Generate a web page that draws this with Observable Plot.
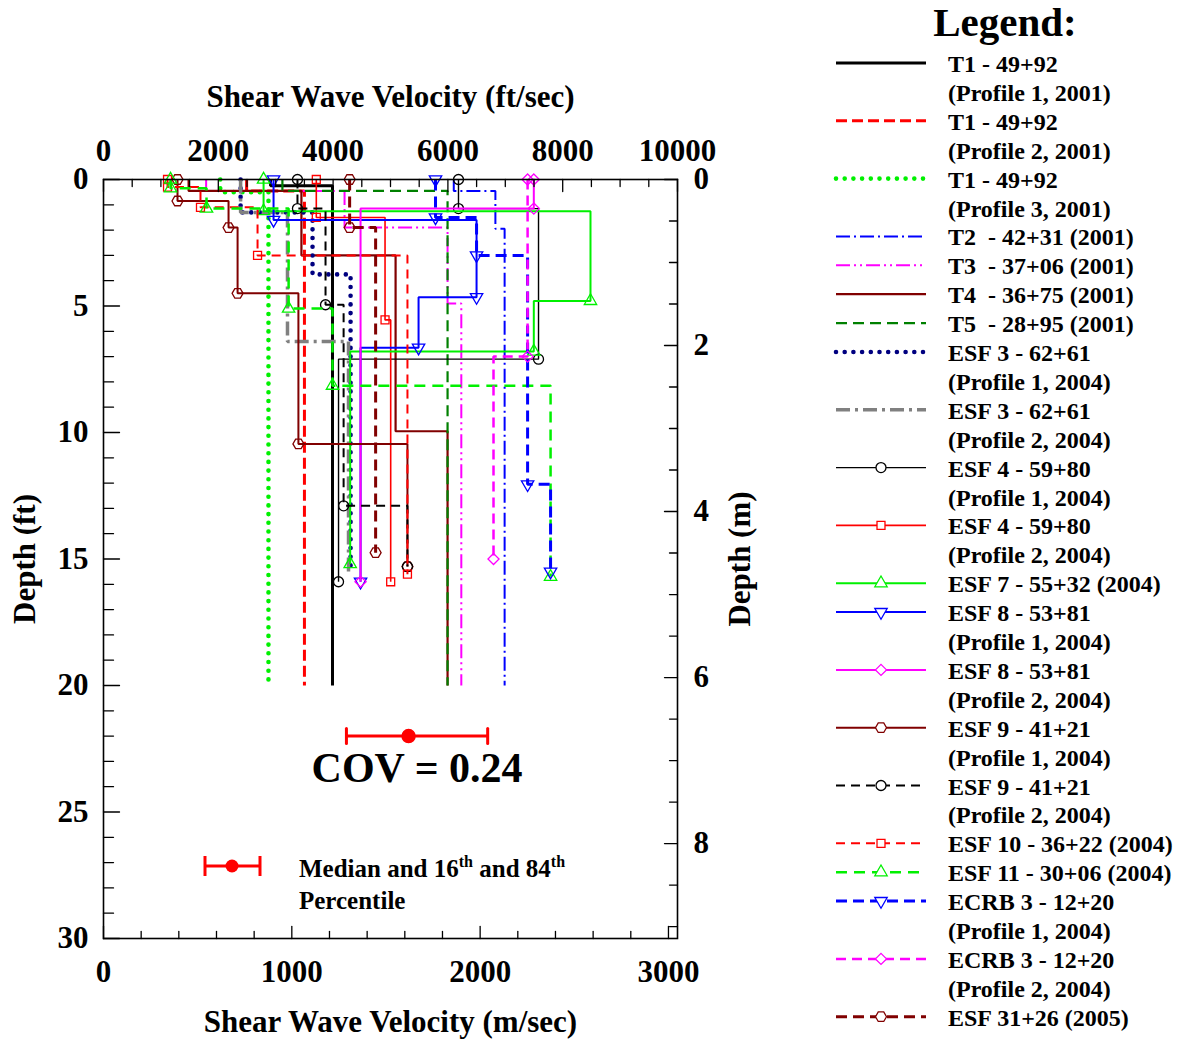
<!DOCTYPE html>
<html><head><meta charset="utf-8">
<script src="https://cdn.jsdelivr.net/npm/d3@7"></script>
<script src="https://cdn.jsdelivr.net/npm/@observablehq/plot@0.6"></script>
<style>
body{margin:0;background:#fff;}
#chart{width:1182px;height:1040px;}
text{font-family:"Liberation Serif","Times New Roman",serif;font-weight:bold;}
</style>
</head><body><div id="chart"></div>
<script>
// ---------- data (depth boundaries in ft, layer velocities in m/s) ----------
const t1p1Depth = [0, 0.25, 20],                 t1p1Vs = [887, 1216];
const t1p2Depth = [0, 0.45, 20],                 t1p2Vs = [760, 1067];
const t1p3Depth = [0, 0.5, 20],                  t1p3Vs = [620, 876];
const t2Depth   = [0, 0.45, 1.95, 20],           t2Vs   = [1860, 2081, 2130];
const t3Depth   = [0, 0.45, 1.9, 4.9, 20],       t3Vs   = [545, 1280, 1827, 1900];
const t4Depth   = [0, 0.45, 3.0, 9.95, 20],      t4Vs   = [452, 1051, 1551, 1827];
const t5Depth   = [0, 0.45, 20],                 t5Vs   = [950, 1827];
const esf3p1Depth = [0, 1.3, 3.75, 15.5],        esf3p1Vs = [728, 1110, 1312];
const esf3p2Depth = [0, 1.3, 6.4, 15.5],         esf3p2Vs = [728, 977, 1301];
const esf4p1Depth = [0, 1.15, 7.1, 15.9],        esf4p1Vs = [1885, 2310, 1248];
const esf4p2Depth = [0, 1.5, 5.55, 15.9],        esf4p2Vs = [1130, 1495, 1525];
const esf7Depth   = [0, 1.25, 4.8, 6.8, 15.2],   esf7Vs   = [850, 2586, 2285, 1310];
const esf8p1Depth = [0, 1.6, 4.65, 6.65, 15.9],  esf8p1Vs = [903, 1981, 1673, 1365];
const esf8p2Depth = [0, 1.15, 15.9],             esf8p2Vs = [2285, 1365];
const esf9p1Depth = [0, 0.85, 1.9, 4.5, 10.45, 15.3], esf9p1Vs = [393, 664, 712, 1035, 1614];
const esf9p2Depth = [0, 1.15, 4.95, 12.9, 15.3], esf9p2Vs = [1030, 1179, 1275, 1614];
const esf10Depth  = [0, 0.3, 1.1, 3.0, 15.6],    esf10Vs  = [340, 515, 818, 1614];
const esf11Depth  = [0, 0.35, 1.15, 5.1, 8.15, 15.7], esf11Vs = [356, 547, 983, 1216, 2374];
const ecrb3p1Depth = [0, 1.5, 3.0, 12.05, 15.5], ecrb3p1Vs = [1763, 1981, 2252, 2374];
const ecrb3p2Depth = [0, 7.0, 15.0],             ecrb3p2Vs = [2252, 2071];
const esf31Depth  = [0, 1.9, 14.75],             esf31Vs  = [1307, 1445];

const seriesNames = [
  ["T1 - 49+92", "(Profile 1, 2001)"],
  ["T1 - 49+92", "(Profile 2, 2001)"],
  ["T1 - 49+92", "(Profile 3, 2001)"],
  ["T2  - 42+31 (2001)"],
  ["T3  - 37+06 (2001)"],
  ["T4  - 36+75 (2001)"],
  ["T5  - 28+95 (2001)"],
  ["ESF 3 - 62+61", "(Profile 1, 2004)"],
  ["ESF 3 - 62+61", "(Profile 2, 2004)"],
  ["ESF 4 - 59+80", "(Profile 1, 2004)"],
  ["ESF 4 - 59+80", "(Profile 2, 2004)"],
  ["ESF 7 - 55+32 (2004)"],
  ["ESF 8 - 53+81", "(Profile 1, 2004)"],
  ["ESF 8 - 53+81", "(Profile 2, 2004)"],
  ["ESF 9 - 41+21", "(Profile 1, 2004)"],
  ["ESF 9 - 41+21", "(Profile 2, 2004)"],
  ["ESF 10 - 36+22 (2004)"],
  ["ESF 11 - 30+06 (2004)"],
  ["ECRB 3 - 12+20", "(Profile 1, 2004)"],
  ["ECRB 3 - 12+20", "(Profile 2, 2004)"],
  ["ESF 31+26 (2005)"]
];

// median, 16th and 84th percentile (m/s) at the plotted depth (ft)
const statValues = [1290, 1620, 2040];
const statDepth = 22;
const covLabel = "COV = 0.24";

// axis ticks
const ftSecLabels = [0, 2000, 4000, 6000, 8000, 10000];
const mSecLabels = [0, 1000, 2000, 3000];
const depthFtLabels = [0, 5, 10, 15, 20, 25, 30];
const depthMLabels = [0, 2, 4, 6, 8];

// ---------- build ----------
const FT = 0.3048;
const profiles = [
  [t1p1Depth, t1p1Vs], [t1p2Depth, t1p2Vs], [t1p3Depth, t1p3Vs], [t2Depth, t2Vs], [t3Depth, t3Vs],
  [t4Depth, t4Vs], [t5Depth, t5Vs], [esf3p1Depth, esf3p1Vs], [esf3p2Depth, esf3p2Vs],
  [esf4p1Depth, esf4p1Vs], [esf4p2Depth, esf4p2Vs], [esf7Depth, esf7Vs], [esf8p1Depth, esf8p1Vs],
  [esf8p2Depth, esf8p2Vs], [esf9p1Depth, esf9p1Vs], [esf9p2Depth, esf9p2Vs], [esf10Depth, esf10Vs],
  [esf11Depth, esf11Vs], [ecrb3p1Depth, ecrb3p1Vs], [ecrb3p2Depth, ecrb3p2Vs], [esf31Depth, esf31Vs]
];

const hexagon = {draw(ctx, size) {
  const r = Math.sqrt(size / 2.598);
  for (let i = 0; i < 6; i++) {
    const a = Math.PI / 3 * i;
    const px = r * Math.cos(a), py = r * Math.sin(a);
    if (i) ctx.lineTo(px, py); else ctx.moveTo(px, py);
  }
  ctx.closePath();
}};

const G = "#00f000";
const styles = [
  {stroke: "#000", w: 3},
  {stroke: "#f00", w: 3, dash: "11 5"},
  {stroke: G, w: 4.6, dash: "0 8.7", cap: "round"},
  {stroke: "#00f", w: 2, dash: "14 4 2 4"},
  {stroke: "#f0f", w: 2, dash: "14 4 2 4 2 4"},
  {stroke: "#800000", w: 2.2},
  {stroke: "#008000", w: 2.2, dash: "11 6"},
  {stroke: "#000080", w: 4.6, dash: "0 8.7", cap: "round"},
  {stroke: "#808080", w: 3.5, dash: "14 5 3 5"},
  {stroke: "#000", w: 1.4, sym: "circle", r: 5},
  {stroke: "#f00", w: 1.6, sym: "square", r: 4.5},
  {stroke: G, w: 2, sym: "triangle", r: 4.6},
  {stroke: "#00f", w: 2, sym: "triangle", r: 4.6, rot: 180},
  {stroke: "#f0f", w: 2, sym: "diamond2", r: 5},
  {stroke: "#800000", w: 2, sym: hexagon, r: 5},
  {stroke: "#000", w: 2, dash: "9 6", sym: "circle", r: 5},
  {stroke: "#f00", w: 2, dash: "9 6", sym: "square", r: 4.5},
  {stroke: G, w: 2.5, dash: "11 7", sym: "triangle", r: 4.6},
  {stroke: "#00f", w: 3, dash: "11 6", sym: "triangle", r: 4.6, rot: 180},
  {stroke: "#f0f", w: 2.5, dash: "10 6", sym: "diamond2", r: 5},
  {stroke: "#800000", w: 3, dash: "11 6", sym: hexagon, r: 5}
];

function stepPoints(depth, vs) {
  const pts = [];
  vs.forEach((v, i) => { pts.push({v, d: depth[i]}); pts.push({v, d: depth[i + 1]}); });
  return pts;
}
function markerPoints(depth, vs) {
  return [{v: vs[0], d: depth[0]}, ...vs.map((v, i) => ({v, d: depth[i + 1]}))];
}

const tickShape = {draw(ctx, l) { ctx.moveTo(0, 0); ctx.lineTo(0, -l); }};
function ticks(values, isMajor, chan, fn, frameAnchor, rotate, longLen, shortLen) {
  const mk = (vals, len) => Plot.vector(vals, {[chan]: fn, frameAnchor, rotate, length: len, anchor: "start",
    shape: tickShape, stroke: "#000", strokeWidth: 1.3});
  return [mk(values.filter(isMajor), longLen), mk(values.filter(v => !isMajor(v)), shortLen)];
}
const near = (a, b) => Math.abs(a - b) < 1e-6;

const marks = [];
profiles.forEach(([depth, vs], i) => {
  const s = styles[i];
  marks.push(Plot.line(stepPoints(depth, vs), {x: "v", y: "d", stroke: s.stroke, strokeWidth: s.w,
    strokeDasharray: s.dash, strokeLinecap: s.cap || "butt", strokeLinejoin: "miter"}));
  if (s.sym) marks.push(Plot.dot(markerPoints(depth, vs), {x: "v", y: "d", symbol: s.sym, r: s.r,
    stroke: s.stroke, fill: "none", strokeWidth: 1.3, rotate: s.rot || 0}));
});

// median bar
const [p16, med, p84] = statValues;
marks.push(Plot.ruleY([statDepth], {y: d => d, x1: p16, x2: p84, stroke: "#f00", strokeWidth: 3}));
marks.push(Plot.vector([p16, p84], {x: d => d, y: () => statDepth, length: 15, anchor: "middle", rotate: 0,
  shape: tickShape, stroke: "#f00", strokeWidth: 3}));
marks.push(Plot.dot([med], {x: d => d, y: () => statDepth, r: 6.5, fill: "#f00", stroke: "#f00"}));
marks.push(Plot.text([covLabel], {x: () => (p16 + p84) / 2, y: () => statDepth + 1.3, fontSize: 42,
  fontWeight: "bold", lineAnchor: "middle"}));

// frame, ticks, labels
marks.push(Plot.frame({stroke: "#000", strokeWidth: 1.6}));
const ftTickVals = d3.range(0, 10001, 500);
const msTickVals = d3.range(0, 3001, 200);
const dFtTickVals = d3.range(0, 31, 1);
const dMTickVals = d3.range(0, 9.01, 0.5);
marks.push(...ticks(ftTickVals, v => v % 2000 === 0, "x", d => d * FT, "top", 180, 12, 7));
marks.push(...ticks(msTickVals, v => v % 1000 === 0, "x", d => d, "bottom", 0, 12, 7));
marks.push(...ticks(dFtTickVals, v => v % 5 === 0, "y", d => d, "left", 90, 16, 10));
marks.push(...ticks(dMTickVals, v => near(v % 2, 0), "y", d => d / FT, "right", -90, 13, 8));

const lab = {fontSize: 31, fontWeight: "bold", fill: "#000", lineAnchor: "middle"};
marks.push(Plot.text(ftSecLabels, {x: d => d * FT, text: d => String(d), frameAnchor: "top", dy: -28, textAnchor: "middle", ...lab}));
marks.push(Plot.text(mSecLabels, {x: d => d, text: d => String(d), frameAnchor: "bottom", dy: 34, textAnchor: "middle", ...lab}));
marks.push(Plot.text(depthFtLabels, {y: d => d, text: d => String(d), frameAnchor: "left", dx: -15, textAnchor: "end", ...lab}));
marks.push(Plot.text(depthMLabels, {y: d => d / FT, text: d => String(d), frameAnchor: "right", dx: 16, textAnchor: "start", ...lab}));
const ttl = {fontSize: 31, fontWeight: "bold", fill: "#000", lineAnchor: "middle", textAnchor: "middle"};
marks.push(Plot.text(["Shear Wave Velocity (ft/sec)"], {frameAnchor: "top", dy: -82, ...ttl}));
marks.push(Plot.text(["Shear Wave Velocity (m/sec)"], {frameAnchor: "bottom", dy: 84, ...ttl}));
marks.push(Plot.text(["Depth (ft)"], {frameAnchor: "left", dx: -78, rotate: -90, ...ttl}));
marks.push(Plot.text(["Depth (m)"], {frameAnchor: "right", dx: 63, rotate: -90, ...ttl}));

const svgEl = Plot.plot({
  width: 1182, height: 1040,
  marginLeft: 103, marginRight: 505, marginTop: 179, marginBottom: 102,
  x: {domain: [0, 10000 * FT], axis: null},
  y: {domain: [0, 30], reverse: true, axis: null},
  style: {fontFamily: "'Liberation Serif','Times New Roman',serif", background: "#fff", overflow: "visible"},
  marks
});
document.getElementById("chart").appendChild(svgEl);

// ---------- legends (layout) ----------
const svg = d3.select(svgEl);
// in-plot legend for the median bar
const ml = svg.append("g").attr("text-anchor", "start");
ml.append("line").attr("x1", 205).attr("x2", 260).attr("y1", 866).attr("y2", 866).attr("stroke", "#f00").attr("stroke-width", 3);
[205, 260].forEach(x => ml.append("line").attr("x1", x).attr("x2", x).attr("y1", 856).attr("y2", 876).attr("stroke", "#f00").attr("stroke-width", 3));
ml.append("circle").attr("cx", 232).attr("cy", 866).attr("r", 6.5).attr("fill", "#f00");
const mt = ml.append("text").attr("x", 299).attr("y", 877).attr("font-size", 25).attr("font-weight", "bold");
mt.append("tspan").text("Median and 16");
mt.append("tspan").text("th").attr("font-size", 16).attr("dy", -10);
mt.append("tspan").text(" and 84").attr("dy", 10).style("white-space", "pre");
mt.append("tspan").text("th").attr("font-size", 16).attr("dy", -10);
ml.append("text").attr("x", 299).attr("y", 909).attr("font-size", 25).attr("font-weight", "bold").text("Percentile");

// main legend
const lg = svg.append("g").attr("text-anchor", "start");
lg.append("text").attr("x", 1005).attr("y", 36).attr("text-anchor", "middle").attr("font-size", 41).attr("font-weight", "bold").text("Legend:");
let row = 0;
const pitch = 28.9;
seriesNames.forEach((lines, i) => {
  const s = styles[i];
  const y = 63 + row * pitch;
  lg.append("line").attr("x1", 836).attr("x2", 926).attr("y1", y).attr("y2", y)
    .attr("stroke", s.stroke).attr("stroke-width", s.w).attr("stroke-dasharray", s.dash || null)
    .attr("stroke-linecap", s.cap || "butt");
  if (s.sym) {
    const sym = typeof s.sym === "string" ? {circle: d3.symbolCircle, square: d3.symbolSquare, triangle: d3.symbolTriangle, diamond2: d3.symbolDiamond2}[s.sym] : s.sym;
    lg.append("path").attr("d", d3.symbol(sym, Math.PI * s.r * s.r)())
      .attr("transform", `translate(881,${y}) rotate(${s.rot || 0})`)
      .attr("fill", "#fff").attr("stroke", s.stroke).attr("stroke-width", 1.3);
  }
  lines.forEach((t, k) => {
    lg.append("text").attr("x", 948).attr("y", y + 9 + k * pitch).attr("font-size", 24).attr("font-weight", "bold")
      .attr("text-anchor", "start").style("white-space", "pre").text(t);
  });
  row += lines.length;
});
</script>
</body></html>
